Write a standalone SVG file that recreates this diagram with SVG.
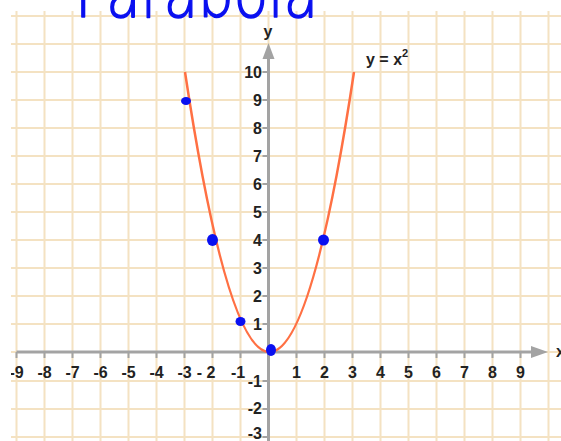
<svg xmlns="http://www.w3.org/2000/svg" width="561" height="441" viewBox="0 0 561 441">
<style>
.grid{stroke:#f4e2c2;stroke-width:2;fill:none}
.axis{stroke:#a3a3a3;stroke-width:3;fill:none}
.tick{stroke:#a3a3a3;stroke-width:2;fill:none}
.lbl{font-family:"Liberation Sans",Arial,sans-serif;font-weight:bold;font-size:16px;fill:#222}
.xl{text-anchor:middle}
.yl{text-anchor:end}
.dot{fill:#0a10f0}
</style>
<defs>
<clipPath id="plot"><rect x="11" y="11" width="550" height="430"/></clipPath>
</defs>
<rect width="561" height="441" fill="#fff"/>
<g id="chart" clip-path="url(#plot)">
<g id="grid" class="grid">
<path d="M16.5 11V441M44.5 11V441M72.5 11V441M100.5 11V441M128.5 11V441M156.5 11V441M184.5 11V441M212.5 11V441M240.5 11V441M268.5 11V441M296.5 11V441M324.5 11V441M352.5 11V441M380.5 11V441M408.5 11V441M436.5 11V441M464.5 11V441M492.5 11V441M520.5 11V441M548.5 11V441"/>
<path d="M11 16H561M11 44H561M11 72H561M11 100H561M11 128H561M11 156H561M11 184H561M11 212H561M11 240H561M11 268H561M11 296H561M11 324H561M11 352H561M11 381H561M11 409H561M11 437H561"/>
</g>
<g id="axes">
<path class="axis" d="M16.5 352H533"/>
<polygon points="548,352 531,346 531,358" fill="#a3a3a3"/>
<path class="axis" d="M268.5 441V58"/>
<polygon points="268.5,43 262.5,59 274.5,59" fill="#a3a3a3"/>
<path class="tick" d="M16.5 352v6M44.5 352v6M72.5 352v6M100.5 352v6M128.5 352v6M156.5 352v6M184.5 352v6M212.5 352v6M240.5 352v6M296.5 352v6M324.5 352v6M352.5 352v6M380.5 352v6M408.5 352v6M436.5 352v6M464.5 352v6M492.5 352v6M520.5 352v6"/>
<path class="tick" d="M262.5 72h6M262.5 100h6M262.5 128h6M262.5 156h6M262.5 184h6M262.5 212h6M262.5 240h6M262.5 268h6M262.5 296h6M262.5 324h6M262.5 381h6M262.5 409h6M262.5 437h6"/>
</g>
<g id="xlabels" class="lbl xl">
<text x="16.5" y="378">-9</text>
<text x="44.5" y="378">-8</text>
<text x="72.5" y="378">-7</text>
<text x="100.5" y="378">-6</text>
<text x="128.5" y="378">-5</text>
<text x="156.5" y="378">-4</text>
<text x="184.5" y="378">-3</text>
<text x="206" y="378">- 2</text>
<text x="238" y="378">-1</text>
<text x="296.5" y="378">1</text>
<text x="324.5" y="378">2</text>
<text x="352.5" y="378">3</text>
<text x="380.5" y="378">4</text>
<text x="408.5" y="378">5</text>
<text x="436.5" y="378">6</text>
<text x="464.5" y="378">7</text>
<text x="492.5" y="378">8</text>
<text x="520.5" y="378">9</text>
</g>
<g id="ylabels" class="lbl yl">
<text x="262" y="78">10</text>
<text x="262" y="106">9</text>
<text x="262" y="134">8</text>
<text x="262" y="162">7</text>
<text x="262" y="190">6</text>
<text x="262" y="218">5</text>
<text x="262" y="246">4</text>
<text x="262" y="274">3</text>
<text x="262" y="302">2</text>
<text x="262" y="330">1</text>
<text x="262" y="387">-1</text>
<text x="262" y="414">-2</text>
<text x="262" y="439">-3</text>
</g>
<text class="lbl" x="556" y="357" font-size="15">x</text>
<text class="lbl" x="268" y="37" text-anchor="middle" font-size="15">y</text>
<text class="lbl" x="366" y="65" font-size="14">y = x<tspan dy="-8" font-size="11">2</tspan></text>
<g id="curve">
<path d="M185 72Q269.5 632 354 72" fill="none" stroke="#ff7043" stroke-width="2.5"/>
</g>
</g>
<g id="marks">
<ellipse class="dot" cx="186" cy="101" rx="5" ry="4"/>
<ellipse class="dot" cx="212.5" cy="240" rx="5.5" ry="6"/>
<ellipse class="dot" cx="323.5" cy="240" rx="5.5" ry="5.5"/>
<ellipse class="dot" cx="240.5" cy="321.5" rx="5" ry="4.5"/>
<ellipse class="dot" cx="271" cy="350" rx="5" ry="6"/>
</g>
<text id="title" x="75" y="17" font-family="DejaVu Sans, Liberation Sans, sans-serif" font-weight="200" font-size="64" fill="#0a10f0" stroke="#0a10f0" stroke-width="1.6" stroke-linejoin="round" textLength="243" lengthAdjust="spacingAndGlyphs">Parabola</text>
</svg>
